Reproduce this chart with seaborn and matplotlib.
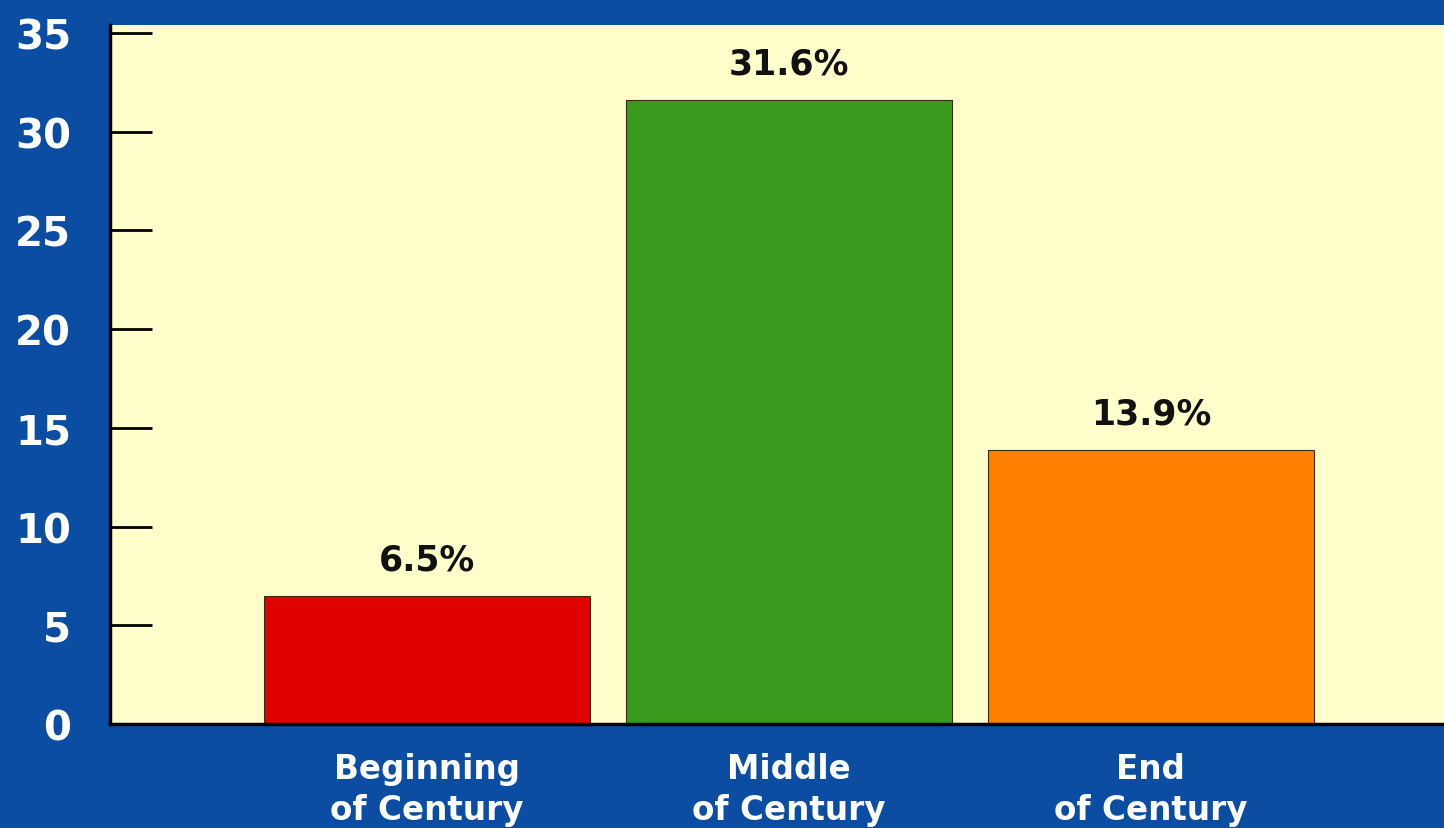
import matplotlib
matplotlib.use('Agg')
import matplotlib.pyplot as plt
import seaborn as sns
import pandas as pd

categories = ['Beginning\nof Century', 'Middle\nof Century', 'End\nof Century']
values = [6.5, 31.6, 13.9]
value_labels = ['6.5%', '31.6%', '13.9%']
bar_colors = ['#E00000', '#3A9A1E', '#FF7F00']
yticks = [0, 5, 10, 15, 20, 25, 30, 35]

sns.set_style('white')
plt.rcParams['font.family'] = ['DejaVu Sans']

df = pd.DataFrame({'period': categories, 'pct': values})

fig = plt.figure(figsize=(14.44, 8.29), dpi=100, facecolor='#0A4DA2')
ax = fig.add_axes([110 / 1444, 1 - 725 / 829, 1 - 110 / 1444, (725 - 26) / 829])
ax.set_facecolor('#FFFFCC')

sns.barplot(data=df, x='period', y='pct', hue='period', palette=bar_colors,
            saturation=1, width=0.9, edgecolor='#3a2a10', linewidth=0.8,
            legend=False, ax=ax)

for cont, lab in zip(ax.containers, value_labels):
    ax.bar_label(cont, labels=[lab], padding=14, fontsize=25, fontweight='bold', color='#111111')

ax.set_xlim(-0.876, 2.81)
ax.set_ylim(0, 35.4)
ax.set_yticks(yticks)
ax.set_xlabel('')
ax.set_ylabel('')

for s in ['top', 'right']:
    ax.spines[s].set_visible(False)
for s in ['left', 'bottom']:
    ax.spines[s].set_color('black')
    ax.spines[s].set_linewidth(2.5)

ax.tick_params(axis='y', left=True, direction='in', length=30, width=2, color='black',
               labelsize=29, labelcolor='white', pad=28)
for t in ax.get_yticklabels():
    t.set_fontweight('bold')
ax.tick_params(axis='x', bottom=False, length=0, labelsize=23.5, labelcolor='white', pad=20)
for t in ax.get_xticklabels():
    t.set_fontweight('bold')
    t.set_linespacing(1.3)

fig.savefig('out.png', dpi=100, facecolor=fig.get_facecolor())
